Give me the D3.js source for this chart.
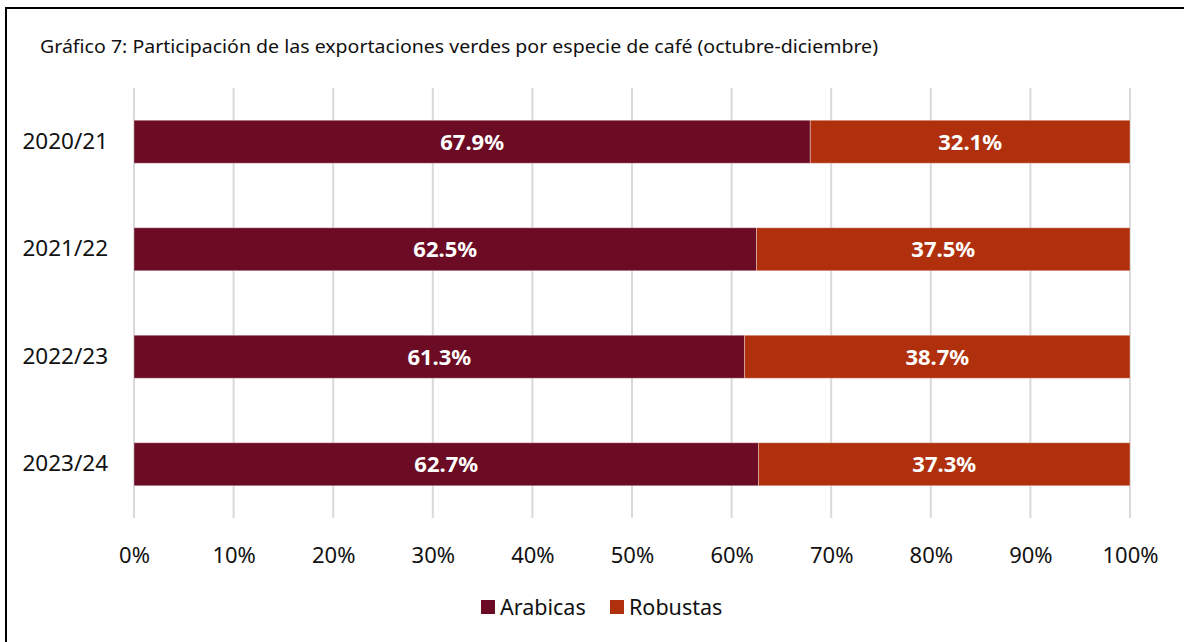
<!DOCTYPE html>
<html>
<head>
<meta charset="utf-8">
<script src="https://cdn.jsdelivr.net/npm/d3@7"></script>
<style>
  body { margin: 0; background: #fff; }
  svg { font-family: "Noto Sans", sans-serif; }
</style>
</head>
<body>
<div id="chart"></div>
<script>
var seasons = ['2020/21', '2021/22', '2022/23', '2023/24'];
var arabicas = [67.9, 62.5, 61.3, 62.7];
var robustas = [32.1, 37.5, 38.7, 37.3];
var seriesNames = ['Arabicas', 'Robustas'];
var seriesColors = ['#6b0b24', '#b0300e'];
var ticks = [0, 10, 20, 30, 40, 50, 60, 70, 80, 90, 100];

var W = 1184, H = 642;
var margin = { top: 88, right: 54, bottom: 124, left: 134 };
var width = W - margin.left - margin.right;
var height = H - margin.top - margin.bottom;

var svg = d3.select('#chart').append('svg')
  .attr('width', W)
  .attr('height', H);

// frame
svg.append('path')
  .attr('d', 'M6,642 L6,8 L1184,8')
  .attr('fill', 'none')
  .attr('stroke', '#000')
  .attr('stroke-width', 2);

svg.append('text')
  .attr('x', 40)
  .attr('y', 53)
  .attr('textLength', 838)
  .attr('lengthAdjust', 'spacingAndGlyphs')
  .style('font-size', '17.5px')
  .attr('fill', '#111')
  .text('Gráfico 7: Participación de las exportaciones verdes por especie de café (octubre-diciembre)');

var g = svg.append('g')
  .attr('transform', 'translate(' + margin.left + ',' + margin.top + ')');

var x = d3.scaleLinear().domain([0, 100]).range([0, width]);
var y = d3.scaleBand().domain(seasons).range([0, height]).paddingInner(0.6).paddingOuter(0.3);

// grid
g.selectAll('line.grid')
  .data(ticks)
  .enter().append('line')
  .attr('class', 'grid')
  .attr('x1', function (d) { return x(d); })
  .attr('x2', function (d) { return x(d); })
  .attr('y1', 0)
  .attr('y2', height)
  .attr('stroke', '#d9d9d9')
  .attr('stroke-width', 2);

var xAxis = d3.axisBottom(x).tickValues(ticks)
  .tickFormat(function (d) { return d + '%'; })
  .tickSize(0).tickPadding(29);

var xg = g.append('g')
  .attr('transform', 'translate(0,' + height + ')')
  .call(xAxis);
xg.select('.domain').remove();
xg.selectAll('text').style('font-size', '22px').attr('fill', '#111')
  .style('font-family', '"Noto Sans", sans-serif');

var yAxis = d3.axisLeft(y).tickSize(0).tickPadding(26);
var yg = g.append('g').call(yAxis);
yg.select('.domain').remove();
yg.selectAll('text').style('font-size', '22.5px').attr('fill', '#111')
  .style('font-family', '"Noto Sans", sans-serif');

var rows = seasons.map(function (s, i) {
  return { season: s, vals: [arabicas[i], robustas[i]] };
});

rows.forEach(function (r) {
  var start = 0;
  r.vals.forEach(function (v, k) {
    g.append('rect')
      .attr('x', x(start))
      .attr('y', y(r.season))
      .attr('width', x(start + v) - x(start))
      .attr('height', y.bandwidth())
      .attr('fill', seriesColors[k])
      .attr('stroke', '#fff')
      .attr('stroke-opacity', 0.35)
      .attr('stroke-width', 1);
    g.append('text')
      .attr('x', x(start + v / 2))
      .attr('y', y(r.season) + y.bandwidth() / 2)
      .attr('dy', '0.36em')
      .attr('text-anchor', 'middle')
      .attr('fill', '#fff')
      .style('font-size', '22px')
      .style('font-weight', 'bold')
      .text(v.toFixed(1) + '%');
    start += v;
  });
});

// legend
var legendX = [481, 610];
var legend = svg.selectAll('g.legend')
  .data(seriesNames)
  .enter().append('g')
  .attr('class', 'legend')
  .attr('transform', function (d, i) { return 'translate(' + legendX[i] + ',600)'; });

legend.append('rect')
  .attr('width', 14).attr('height', 14)
  .attr('fill', function (d, i) { return seriesColors[i]; });

legend.append('text')
  .attr('x', 19).attr('y', 7).attr('dy', '0.36em')
  .style('font-size', '21.5px')
  .attr('fill', '#111')
  .text(function (d) { return d; });
</script>
</body>
</html>
